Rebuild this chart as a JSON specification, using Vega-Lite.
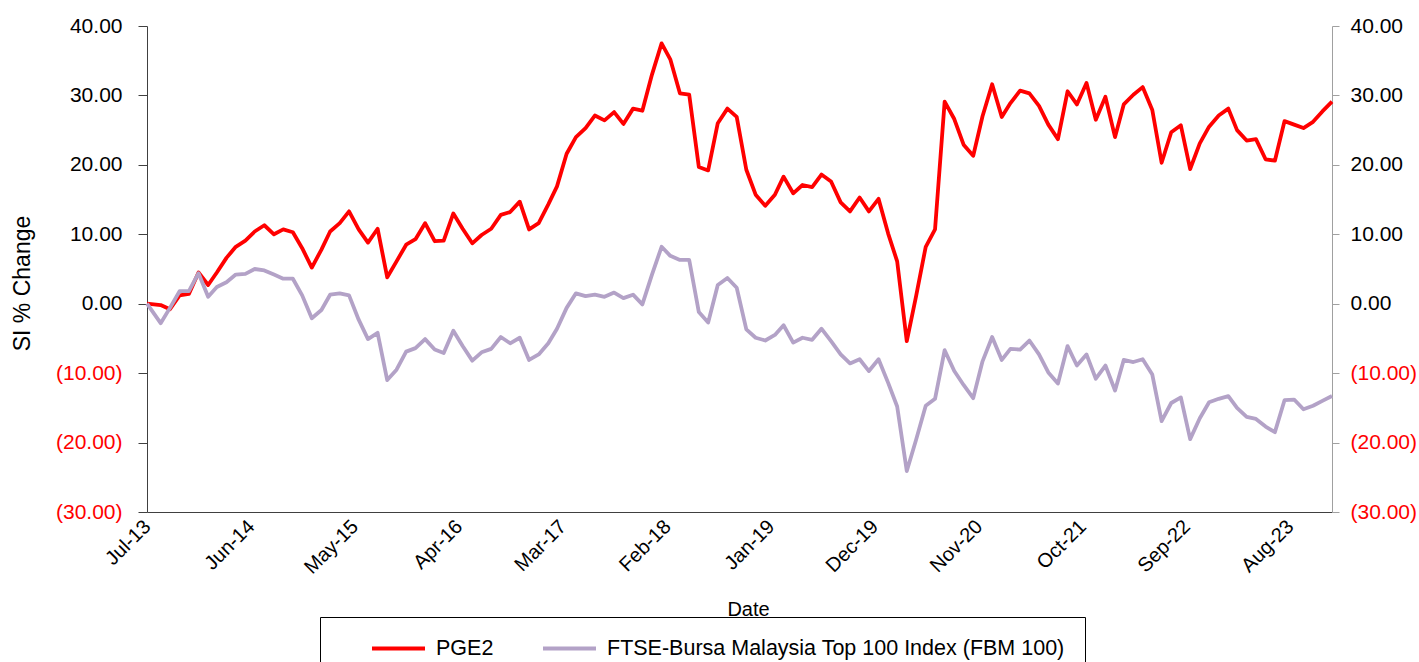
{
  "$schema": "https://vega.github.io/schema/vega-lite/v6.json",
  "width": 1185,
  "height": 486,
  "autosize": "none",
  "padding": {"left": 147, "top": 26, "right": 87, "bottom": 150},
  "background": "white",
  "config": {"view": {"stroke": null}, "font": "Liberation Sans", "axis": {"grid": false}},
  "data": {"values": [
    {"d": "2013-07-18", "PGE2": 0.0, "FBM": 0.0},
    {"d": "2013-08-31", "PGE2": -0.2, "FBM": -2.8},
    {"d": "2013-09-30", "PGE2": -0.8, "FBM": -0.6},
    {"d": "2013-10-31", "PGE2": 1.2, "FBM": 1.8},
    {"d": "2013-11-30", "PGE2": 1.4, "FBM": 1.8},
    {"d": "2013-12-31", "PGE2": 4.5, "FBM": 4.4},
    {"d": "2014-01-31", "PGE2": 2.7, "FBM": 1.0},
    {"d": "2014-02-28", "PGE2": 4.5, "FBM": 2.4},
    {"d": "2014-03-31", "PGE2": 6.6, "FBM": 3.1},
    {"d": "2014-04-30", "PGE2": 8.2, "FBM": 4.2},
    {"d": "2014-05-31", "PGE2": 9.1, "FBM": 4.3},
    {"d": "2014-06-30", "PGE2": 10.4, "FBM": 5.0},
    {"d": "2014-07-31", "PGE2": 11.3, "FBM": 4.8},
    {"d": "2014-08-31", "PGE2": 10.0, "FBM": 4.2},
    {"d": "2014-09-30", "PGE2": 10.7, "FBM": 3.6},
    {"d": "2014-10-31", "PGE2": 10.3, "FBM": 3.6},
    {"d": "2014-11-30", "PGE2": 8.0, "FBM": 1.2},
    {"d": "2014-12-31", "PGE2": 5.2, "FBM": -2.1},
    {"d": "2015-01-31", "PGE2": 7.8, "FBM": -0.9},
    {"d": "2015-02-28", "PGE2": 10.4, "FBM": 1.3},
    {"d": "2015-03-31", "PGE2": 11.6, "FBM": 1.5},
    {"d": "2015-04-30", "PGE2": 13.3, "FBM": 1.2},
    {"d": "2015-05-31", "PGE2": 10.7, "FBM": -2.3},
    {"d": "2015-06-30", "PGE2": 8.8, "FBM": -5.1},
    {"d": "2015-07-31", "PGE2": 10.8, "FBM": -4.2},
    {"d": "2015-08-31", "PGE2": 3.8, "FBM": -11.0},
    {"d": "2015-09-30", "PGE2": 6.1, "FBM": -9.5},
    {"d": "2015-10-31", "PGE2": 8.5, "FBM": -6.9},
    {"d": "2015-11-30", "PGE2": 9.3, "FBM": -6.4},
    {"d": "2015-12-31", "PGE2": 11.6, "FBM": -5.1},
    {"d": "2016-01-31", "PGE2": 9.0, "FBM": -6.6},
    {"d": "2016-02-29", "PGE2": 9.1, "FBM": -7.1},
    {"d": "2016-03-31", "PGE2": 13.0, "FBM": -3.9},
    {"d": "2016-04-30", "PGE2": 10.8, "FBM": -6.1},
    {"d": "2016-05-31", "PGE2": 8.7, "FBM": -8.2},
    {"d": "2016-06-30", "PGE2": 9.9, "FBM": -7.0},
    {"d": "2016-07-31", "PGE2": 10.8, "FBM": -6.5},
    {"d": "2016-08-31", "PGE2": 12.8, "FBM": -4.8},
    {"d": "2016-09-30", "PGE2": 13.2, "FBM": -5.7},
    {"d": "2016-10-31", "PGE2": 14.7, "FBM": -4.9},
    {"d": "2016-11-30", "PGE2": 10.7, "FBM": -8.1},
    {"d": "2016-12-31", "PGE2": 11.6, "FBM": -7.3},
    {"d": "2017-01-31", "PGE2": 14.3, "FBM": -5.7},
    {"d": "2017-02-28", "PGE2": 16.9, "FBM": -3.6},
    {"d": "2017-03-31", "PGE2": 21.6, "FBM": -0.6},
    {"d": "2017-04-30", "PGE2": 24.0, "FBM": 1.5},
    {"d": "2017-05-31", "PGE2": 25.3, "FBM": 1.1},
    {"d": "2017-06-30", "PGE2": 27.1, "FBM": 1.3},
    {"d": "2017-07-31", "PGE2": 26.4, "FBM": 1.0},
    {"d": "2017-08-31", "PGE2": 27.6, "FBM": 1.6},
    {"d": "2017-09-30", "PGE2": 25.9, "FBM": 0.8},
    {"d": "2017-10-31", "PGE2": 28.1, "FBM": 1.3},
    {"d": "2017-11-30", "PGE2": 27.8, "FBM": -0.1},
    {"d": "2017-12-31", "PGE2": 33.0, "FBM": 4.2},
    {"d": "2018-01-31", "PGE2": 37.5, "FBM": 8.2},
    {"d": "2018-02-28", "PGE2": 35.2, "FBM": 6.9},
    {"d": "2018-03-31", "PGE2": 30.3, "FBM": 6.3},
    {"d": "2018-04-30", "PGE2": 30.1, "FBM": 6.3},
    {"d": "2018-05-31", "PGE2": 19.7, "FBM": -1.2},
    {"d": "2018-06-30", "PGE2": 19.2, "FBM": -2.7},
    {"d": "2018-07-31", "PGE2": 26.0, "FBM": 2.7},
    {"d": "2018-08-31", "PGE2": 28.1, "FBM": 3.7},
    {"d": "2018-09-30", "PGE2": 26.9, "FBM": 2.3},
    {"d": "2018-10-31", "PGE2": 19.3, "FBM": -3.7},
    {"d": "2018-11-30", "PGE2": 15.7, "FBM": -4.9},
    {"d": "2018-12-31", "PGE2": 14.1, "FBM": -5.3},
    {"d": "2019-01-31", "PGE2": 15.7, "FBM": -4.5},
    {"d": "2019-02-28", "PGE2": 18.3, "FBM": -3.1},
    {"d": "2019-03-31", "PGE2": 15.9, "FBM": -5.6},
    {"d": "2019-04-30", "PGE2": 17.1, "FBM": -4.9},
    {"d": "2019-05-31", "PGE2": 16.8, "FBM": -5.2},
    {"d": "2019-06-30", "PGE2": 18.6, "FBM": -3.6},
    {"d": "2019-07-31", "PGE2": 17.6, "FBM": -5.4},
    {"d": "2019-08-31", "PGE2": 14.6, "FBM": -7.3},
    {"d": "2019-09-30", "PGE2": 13.3, "FBM": -8.6},
    {"d": "2019-10-31", "PGE2": 15.3, "FBM": -8.0},
    {"d": "2019-11-30", "PGE2": 13.3, "FBM": -9.7},
    {"d": "2019-12-31", "PGE2": 15.1, "FBM": -8.0},
    {"d": "2020-01-31", "PGE2": 10.1, "FBM": -11.4},
    {"d": "2020-02-29", "PGE2": 6.1, "FBM": -14.8},
    {"d": "2020-03-31", "PGE2": -5.4, "FBM": -24.1},
    {"d": "2020-04-30", "PGE2": 1.1, "FBM": -19.6},
    {"d": "2020-05-31", "PGE2": 8.2, "FBM": -14.7},
    {"d": "2020-06-30", "PGE2": 10.7, "FBM": -13.7},
    {"d": "2020-07-31", "PGE2": 29.1, "FBM": -6.7},
    {"d": "2020-08-31", "PGE2": 26.6, "FBM": -9.7},
    {"d": "2020-09-30", "PGE2": 22.9, "FBM": -11.7},
    {"d": "2020-10-31", "PGE2": 21.3, "FBM": -13.6},
    {"d": "2020-11-30", "PGE2": 27.0, "FBM": -8.3},
    {"d": "2020-12-31", "PGE2": 31.6, "FBM": -4.8},
    {"d": "2021-01-31", "PGE2": 26.9, "FBM": -8.1},
    {"d": "2021-02-28", "PGE2": 28.9, "FBM": -6.5},
    {"d": "2021-03-31", "PGE2": 30.7, "FBM": -6.6},
    {"d": "2021-04-30", "PGE2": 30.3, "FBM": -5.3},
    {"d": "2021-05-31", "PGE2": 28.5, "FBM": -7.3},
    {"d": "2021-06-30", "PGE2": 25.8, "FBM": -9.9},
    {"d": "2021-07-31", "PGE2": 23.7, "FBM": -11.5},
    {"d": "2021-08-31", "PGE2": 30.6, "FBM": -6.1},
    {"d": "2021-09-30", "PGE2": 28.7, "FBM": -8.9},
    {"d": "2021-10-31", "PGE2": 31.8, "FBM": -7.3},
    {"d": "2021-11-30", "PGE2": 26.5, "FBM": -10.8},
    {"d": "2021-12-31", "PGE2": 29.8, "FBM": -8.9},
    {"d": "2022-01-31", "PGE2": 24.0, "FBM": -12.5},
    {"d": "2022-02-28", "PGE2": 28.7, "FBM": -8.1},
    {"d": "2022-03-31", "PGE2": 30.1, "FBM": -8.4},
    {"d": "2022-04-30", "PGE2": 31.2, "FBM": -8.0},
    {"d": "2022-05-31", "PGE2": 27.9, "FBM": -10.2},
    {"d": "2022-06-30", "PGE2": 20.3, "FBM": -16.9},
    {"d": "2022-07-31", "PGE2": 24.7, "FBM": -14.3},
    {"d": "2022-08-31", "PGE2": 25.7, "FBM": -13.5},
    {"d": "2022-09-30", "PGE2": 19.4, "FBM": -19.5},
    {"d": "2022-10-31", "PGE2": 23.1, "FBM": -16.5},
    {"d": "2022-11-30", "PGE2": 25.5, "FBM": -14.2},
    {"d": "2022-12-31", "PGE2": 27.1, "FBM": -13.7},
    {"d": "2023-01-31", "PGE2": 28.1, "FBM": -13.3},
    {"d": "2023-02-28", "PGE2": 25.0, "FBM": -15.0},
    {"d": "2023-03-31", "PGE2": 23.5, "FBM": -16.3},
    {"d": "2023-04-30", "PGE2": 23.7, "FBM": -16.6},
    {"d": "2023-05-31", "PGE2": 20.8, "FBM": -17.7},
    {"d": "2023-06-30", "PGE2": 20.6, "FBM": -18.5},
    {"d": "2023-07-31", "PGE2": 26.3, "FBM": -13.9},
    {"d": "2023-08-31", "PGE2": 25.8, "FBM": -13.8},
    {"d": "2023-09-30", "PGE2": 25.3, "FBM": -15.2},
    {"d": "2023-10-31", "PGE2": 26.2, "FBM": -14.7},
    {"d": "2023-11-30", "PGE2": 27.7, "FBM": -14.0},
    {"d": "2023-12-31", "PGE2": 29.1, "FBM": -13.3}
  ]},
  "transform": [{"fold": ["PGE2", "FBM"], "as": ["series", "value"]}],
  "encoding": {
    "x": {
      "field": "d",
      "type": "temporal",
      "scale": {
        "type": "utc",
        "domain": [
          {"year": 2013, "month": 7, "date": 18, "utc": true},
          {"year": 2023, "month": 12, "date": 31, "utc": true}
        ]
      },
      "axis": {
        "values": [
          {"year": 2013, "month": 7, "date": 18, "utc": true},
          {"year": 2014, "month": 6, "date": 18, "utc": true},
          {"year": 2015, "month": 5, "date": 18, "utc": true},
          {"year": 2016, "month": 4, "date": 18, "utc": true},
          {"year": 2017, "month": 3, "date": 18, "utc": true},
          {"year": 2018, "month": 2, "date": 18, "utc": true},
          {"year": 2019, "month": 1, "date": 18, "utc": true},
          {"year": 2019, "month": 12, "date": 18, "utc": true},
          {"year": 2020, "month": 11, "date": 18, "utc": true},
          {"year": 2021, "month": 10, "date": 18, "utc": true},
          {"year": 2022, "month": 9, "date": 18, "utc": true},
          {"year": 2023, "month": 8, "date": 18, "utc": true}
        ],
        "labelExpr": "utcFormat(datum.value, '%b-%y')",
        "labelAngle": -45,
        "labelAlign": "right",
        "labelBaseline": "top",
        "labelFontSize": 20,
        "labelColor": "#000000",
        "labelPadding": 4,
        "labelOffset": -7,
        "labelOverlap": false,
        "labelFlush": false,
        "ticks": false,
        "domainColor": "#404040",
        "title": "Date",
        "titleFontSize": 20,
        "titleFontWeight": "normal",
        "titleColor": "#000000",
        "titleX": 601,
        "titleY": 103,
        "titleBaseline": "alphabetic",
        "titleAlign": "center"
      }
    }
  },
  "layer": [
    {
      "mark": {"type": "line", "strokeWidth": 3.8, "strokeJoin": "round"},
      "encoding": {
        "y": {
          "field": "value",
          "type": "quantitative",
          "scale": {"domain": [-30, 40], "nice": false},
          "axis": {
            "orient": "left",
            "values": [-30, -20, -10, 0, 10, 20, 30, 40],
            "labelExpr": "datum.value < 0 ? '(' + format(-datum.value, '.2f') + ')' : format(datum.value, '.2f')",
            "labelColor": {"condition": {"test": "datum.value < 0", "value": "#FF0000"}, "value": "#000000"},
            "labelFontSize": 21,
            "labelPadding": 16,
            "tickSize": 9,
            "tickColor": "#404040",
            "domainColor": "#404040",
            "title": "SI % Change",
            "titleFontSize": 23,
            "titleFontWeight": "normal",
            "titleColor": "#000000",
            "titleX": -118,
            "titleY": 257,
            "titleAngle": 270,
            "titleAlign": "center",
            "titleBaseline": "alphabetic"
          }
        },
        "color": {
          "field": "series",
          "type": "nominal",
          "scale": {"domain": ["PGE2", "FBM"], "range": ["#FF0000", "#B3A2C7"]},
          "legend": {
            "orient": "none",
            "legendX": 173,
            "legendY": 591,
            "direction": "horizontal",
            "title": "\u00a0",
            "titleOrient": "right",
            "titlePadding": 17,
            "titleFontSize": 20,
            "symbolType": "stroke",
            "symbolStrokeWidth": 4,
            "symbolSize": 2809,
            "labelFontSize": 21.5,
            "labelLimit": 0,
            "labelColor": "#000000",
            "labelExpr": "datum.label == 'FBM' ? 'FTSE-Bursa Malaysia Top 100 Index (FBM 100)' : datum.label",
            "strokeColor": "#000000",
            "fillColor": "#FFFFFF",
            "padding": 3,
            "columnPadding": 0,
            "labelOffset": 9,
            "symbolOffset": 47
          }
        }
      }
    },
    {
      "mark": {"type": "line", "opacity": 0},
      "encoding": {
        "y": {
          "field": "value",
          "type": "quantitative",
          "axis": {
            "orient": "right",
            "values": [-30, -20, -10, 0, 10, 20, 30, 40],
            "labelExpr": "datum.value < 0 ? '(' + format(-datum.value, '.2f') + ')' : format(datum.value, '.2f')",
            "labelColor": {"condition": {"test": "datum.value < 0", "value": "#FF0000"}, "value": "#000000"},
            "labelFontSize": 21,
            "labelPadding": 11,
            "tickSize": 7,
            "tickColor": "#A0A0A0",
            "domainColor": "#A0A0A0",
            "title": null
          }
        }
      }
    }
  ],
  "resolve": {"axis": {"y": "independent"}}
}
